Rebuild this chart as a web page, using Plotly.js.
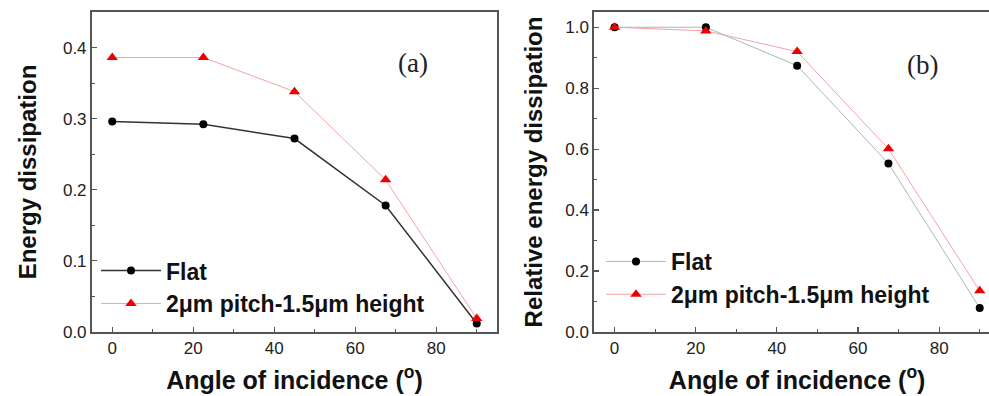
<!DOCTYPE html>
<html>
<head>
<meta charset="utf-8">
<script src="https://cdn.plot.ly/plotly-3.0.1.min.js"></script>
<style>
  html, body { margin: 0; padding: 0; background: #ffffff; overflow: hidden; }
  #chart { width: 1002px; height: 396px; }
</style>
</head>
<body>
<div id="chart"></div>
<script>
// Angle of incidence (degrees)
const angles = [0, 22.5, 45, 67.5, 90];

// (a) absolute energy dissipation
const flatEnergy = [0.296, 0.292, 0.272, 0.178, 0.012];
const texturedEnergy = [0.386, 0.386, 0.338, 0.214, 0.019];

// (b) energy dissipation relative to normal incidence
const flatRelative = [1.0, 1.0, 0.874, 0.553, 0.079];
const texturedRelative = [1.0, 0.988, 0.92, 0.601, 0.135];

const seriesNames = ['Flat', '2\u03bcm pitch-1.5\u03bcm height'];
const xTicks = [0, 20, 40, 60, 80];
const panelLabels = ['(a)', '(b)'];

const W = 1002, H = 396;
const SANS = 'Liberation Sans, Arial, sans-serif';
const AXIS_COLOR = '#555555';
const FLAT_A = '#333333', FLAT_B = '#a9b8b8', TEX = '#f5a3a3';

function flatTrace(y, xa, ya, legend, lineColor, lineWidth) {
  return {
    x: angles, y: y, xaxis: xa, yaxis: ya, legend: legend,
    name: seriesNames[0],
    mode: 'lines+markers', type: 'scatter',
    line: {color: lineColor, width: lineWidth},
    marker: {symbol: 'circle', size: 8, color: '#000000'}
  };
}
function texturedTrace(y, xa, ya, legend) {
  return {
    x: angles, y: y, xaxis: xa, yaxis: ya, legend: legend,
    name: seriesNames[1],
    mode: 'lines+markers', type: 'scatter',
    line: {color: TEX, width: 1},
    marker: {symbol: 'triangle-up', size: 10, color: '#ee0000'}
  };
}

const traces = [
  flatTrace(flatEnergy, 'x', 'y', 'legend', FLAT_A, 1.5),
  texturedTrace(texturedEnergy, 'x', 'y', 'legend'),
  flatTrace(flatRelative, 'x2', 'y2', 'legend2', FLAT_B, 1),
  texturedTrace(texturedRelative, 'x2', 'y2', 'legend2')
];

function xAxis(domain, anchor) {
  return {
    domain: domain, anchor: anchor, range: [-5, 95],
    tickvals: xTicks, ticks: 'inside', ticklen: 5, tickwidth: 1.2, tickcolor: AXIS_COLOR,
    minor: {dtick: 10, tick0: 0, ticks: 'inside', ticklen: 3, tickcolor: AXIS_COLOR},
    showline: true, mirror: true, linecolor: AXIS_COLOR, linewidth: 2,
    showgrid: false, zeroline: false,
    tickfont: {family: SANS, size: 17, color: '#222222'},
    title: {text: 'Angle of incidence (<sup>o</sup>)', standoff: 14,
            font: {family: SANS, size: 25, weight: 'bold', color: '#111111'}}
  };
}
function yAxis(domain, anchor, range, dtick, title, standoff) {
  return {
    domain: domain, anchor: anchor, range: range,
    dtick: dtick, tick0: 0, tickformat: '.1f',
    ticks: 'inside', ticklen: 5, tickwidth: 1.2, tickcolor: AXIS_COLOR,
    minor: {dtick: dtick / 2, tick0: 0, ticks: 'inside', ticklen: 3, tickcolor: AXIS_COLOR},
    showline: true, mirror: true, linecolor: AXIS_COLOR, linewidth: 2,
    showgrid: false, zeroline: false,
    tickfont: {family: SANS, size: 17, color: '#222222'},
    title: {text: title, standoff: standoff,
            font: {family: SANS, size: 24, weight: 'bold', color: '#111111'}}
  };
}

// legend with a wide symbol column so the sample lines run long
function legendBox(x, y) {
  return {
    x: x, y: y, xanchor: 'left', yanchor: 'top',
    bgcolor: 'rgba(0,0,0,0)', borderwidth: 0, itemwidth: 60,
    font: {family: SANS, size: 23, weight: 'bold', color: '#111111'}
  };
}

const yDomain = [0.1616, 0.9697];

const layout = {
  width: W, height: H,
  margin: {l: 0, r: 0, t: 0, b: 0},
  paper_bgcolor: '#ffffff', plot_bgcolor: '#ffffff',
  showlegend: true,
  xaxis: xAxis([0.0918, 0.496], 'y'),
  yaxis: yAxis(yDomain, 'x', [0, 0.45], 0.1, 'Energy dissipation', 20),
  xaxis2: xAxis([0.5931, 0.998], 'y2'),
  yaxis2: yAxis(yDomain, 'x2', [0, 1.05], 0.2, 'Relative energy dissipation', 16),
  legend: legendBox(0.0958, 0.371),
  legend2: legendBox(0.5998, 0.394),
  annotations: [
    {text: panelLabels[0], xref: 'x domain', yref: 'y domain', x: 0.793, y: 0.84,
     xanchor: 'center', yanchor: 'middle', showarrow: false,
     font: {family: 'Liberation Serif, Times New Roman, serif', size: 27, color: '#222222'}},
    {text: panelLabels[1], xref: 'x2 domain', yref: 'y2 domain', x: 0.808, y: 0.835,
     xanchor: 'center', yanchor: 'middle', showarrow: false,
     font: {family: 'Liberation Serif, Times New Roman, serif', size: 27, color: '#222222'}}
  ]
};

Plotly.newPlot('chart', traces, layout, {displayModeBar: false, staticPlot: true});
</script>
</body>
</html>
